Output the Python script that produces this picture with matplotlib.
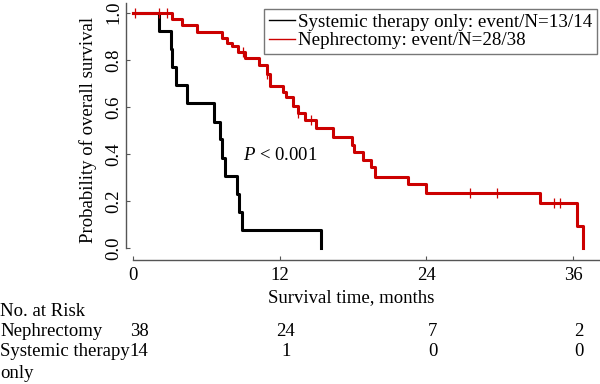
import numpy as np
import matplotlib
matplotlib.use("Agg")
import matplotlib.pyplot as plt
import matplotlib.transforms as mtransforms

# Curvas de Kaplan-Meier (meses, supervivencia)
sys_t = [0, 2.1, 3.1, 3.2, 3.5, 4.4, 6.6, 7.1, 7.28, 7.55, 8.5, 8.7, 8.95, 15.35]
sys_s = [1.0, 0.923, 0.846, 0.769, 0.692, 0.615, 0.538, 0.462, 0.385, 0.308,
         0.231, 0.154, 0.077, 0.0]

neph_t = [0, 3.15, 3.98, 5.25, 7.26, 7.7, 8.1, 8.6, 9.17, 10.34, 10.94, 11.2,
          12.25, 12.5, 13.05, 13.5, 14.07, 15.0, 16.4, 17.9, 18.05, 18.85,
          19.5, 19.8, 22.5, 24.0, 33.3, 36.3, 36.8]
neph_s = [1.0, 0.974, 0.948, 0.919, 0.894, 0.870, 0.857, 0.834, 0.806, 0.778,
          0.74, 0.689, 0.665, 0.643, 0.604, 0.573, 0.545, 0.509, 0.474, 0.438,
          0.41, 0.375, 0.346, 0.304, 0.272, 0.236, 0.194, 0.095, 0.0]
neph_cens = [0.15, 2.1, 2.8, 8.97, 11.0, 13.5, 14.6, 27.6, 29.8, 34.45, 34.9]

# Tabla de pacientes en riesgo
risk_times = [0, 12, 24, 36]
neph_risk = [38, 24, 7, 2]
sys_risk = [14, 1, 0, 0]

sys_label = "Systemic therapy only: event/N=13/14"
neph_label = "Nephrectomy: event/N=28/38"

plt.rcParams["font.family"] = "Liberation Serif"
plt.rcParams["font.size"] = 13.5
plt.rcParams["mathtext.fontset"] = "custom"
plt.rcParams["mathtext.rm"] = "Liberation Serif"
plt.rcParams["mathtext.it"] = "Liberation Serif:italic"

W, H = 600, 384
fig = plt.figure(figsize=(6, 3.84), dpi=100)
ax = fig.add_axes([133 / W, 1 - 248.3 / H, 467 / W, 245 / H])
ax.set_xlim(0, 38.2)
ax.set_ylim(0, 1.04)

red = "#cc0000"
ax.step(sys_t, sys_s, where="post", color="black", lw=2.2, clip_on=False)
ax.step(neph_t, neph_s, where="post", color=red, lw=2.2, clip_on=False)

# marcas de censura sobre la curva roja
idx = np.searchsorted(neph_t, neph_cens, side="right") - 1
cens_s = np.array(neph_s)[idx]
ax.plot(neph_cens, cens_s, ls="none", marker="|", ms=7, mew=0.9, color=red,
        clip_on=False)

# leyenda
h1, = ax.plot([], [], color="black", lw=1)
h2, = ax.plot([], [], color=red, lw=1)
leg = ax.legend([h1, h2], [sys_label, neph_label], loc="upper right",
                bbox_to_anchor=(597 / W, 1 - 9 / H), bbox_transform=fig.transFigure,
                borderaxespad=0, fancybox=False, framealpha=1, edgecolor="#777777",
                handlelength=1.4, handletextpad=0.15, labelspacing=0.05,
                borderpad=0.25, fontsize=13.7)
leg.get_frame().set_linewidth(1)

ax.text(9.0, 0.396, r"$P$ < 0.001", ha="left", va="center")

# ejes al estilo R
for s in ["top", "right"]:
    ax.spines[s].set_visible(False)
ax.spines["left"].set_position(("data", -0.55))
ax.spines["bottom"].set_position(("data", -0.05))
ax.spines["left"].set_bounds(0, 1.04)
ax.spines["bottom"].set_bounds(0, 38.2)
for s in ["left", "bottom"]:
    ax.spines[s].set_color("#555555")
    ax.spines[s].set_linewidth(1)

ax.set_xticks(risk_times)
ax.set_yticks([0, 0.2, 0.4, 0.6, 0.8, 1.0])
ax.set_yticklabels(["0.0", "0.2", "0.4", "0.6", "0.8", "1.0"], rotation=90,
                   va="center")
ax.tick_params(direction="in", length=3, width=0.8, color="#555555")
ax.tick_params(axis="y", pad=3)
ax.tick_params(axis="x", pad=5)

fig.text(88 / W, 1 - 130 / H, "Probability of overall survival", rotation=90,
         ha="center", va="center")
fig.text(351 / W, 1 - 298 / H, "Survival time, months", ha="center", va="center")

fig.text(0, 1 - 312 / H, "No. at Risk", ha="left", va="center")
fig.text(0, 1 - 331 / H, "Nephrectomy", ha="left", va="center")
fig.text(0, 1 - 352 / H, "Systemic therapy", ha="left", va="center")
fig.text(0, 1 - 373 / H, "only", ha="left", va="center")

trans = mtransforms.blended_transform_factory(ax.transData, fig.transFigure)
for t, n1, n2 in zip(risk_times, neph_risk, sys_risk):
    ax.text(t + 0.5, 1 - 331 / H, str(n1), ha="center", va="center", transform=trans)
    ax.text(t + 0.5, 1 - 352 / H, str(n2), ha="center", va="center", transform=trans)

fig.savefig("out.png", dpi=100)
